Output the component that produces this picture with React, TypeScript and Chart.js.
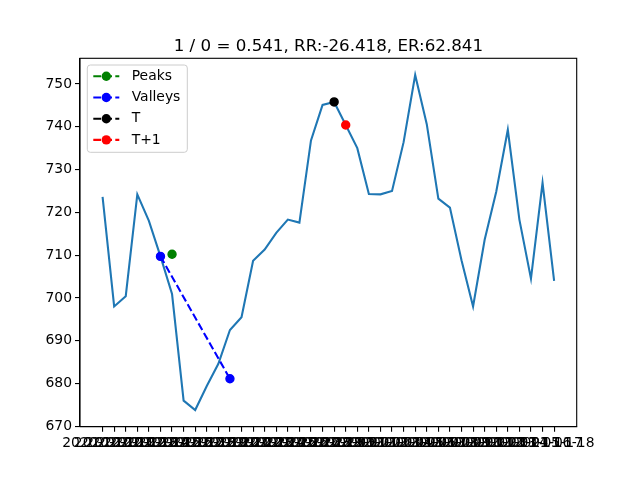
import React, { useEffect, useRef } from "react";
import { Chart, registerables } from "chart.js";

Chart.register(...registerables);

// x labels (one per row)
const dates = [
  "2020-12-10", "2020-12-11", "2020-12-12", "2020-12-13", "2020-12-14",
  "2020-12-15", "2020-12-16", "2020-12-17", "2020-12-18", "2020-12-19",
  "2020-12-20", "2020-12-21", "2020-12-22", "2020-12-23", "2020-12-24",
  "2020-12-25", "2020-12-26", "2020-12-27", "2020-12-28", "2020-12-29",
  "2020-12-30", "2020-12-31", "2021-01-01", "2021-01-02", "2021-01-03",
  "2021-01-04", "2021-01-05", "2021-01-06", "2021-01-07", "2021-01-08",
  "2021-01-09", "2021-01-10", "2021-01-11", "2021-01-12", "2021-01-13",
  "2021-01-14", "2021-01-15", "2021-01-16", "2021-01-17", "2021-01-18",
];

const prices = [
  723.6, 698.0, 700.4, 724.2, 718.0, 709.7, 700.9, 676.0, 673.8, 679.4,
  684.6, 692.5, 695.5, 708.7, 711.3, 715.2, 718.3, 717.6, 736.8, 745.1,
  745.8, 740.4, 735.0, 724.3, 724.2, 725.0, 736.4, 752.1, 740.6, 723.2,
  721.1, 708.8, 698.0, 713.6, 724.8, 739.3, 718.3, 704.5, 726.9, 704.0,
];

const peakIdx = [6];
const peakVals = [710.2];
const valleyIdx = [5, 11];
const valleyVals = [709.7, 681.1];
const tIdx = [20];
const tVals = [745.8];
const t1Idx = [21];
const t1Vals = [740.4];

const yTicks = [670, 680, 690, 700, 710, 720, 730, 740, 750];
const title = "1 / 0 = 0.541, RR:-26.418, ER:62.841";

const pts = (xs: number[], ys: number[]) => xs.map((x, i) => ({ x, y: ys[i] }));

const DASH = [7.7, 3.3];

// title centred over the axes, like matplotlib
const axesTitle = {
  id: "axesTitle",
  afterDraw(chart: any) {
    const { ctx, chartArea } = chart;
    ctx.save();
    ctx.fillStyle = "#000";
    ctx.font = "16.7px 'DejaVu Sans'";
    ctx.textAlign = "center";
    ctx.textBaseline = "alphabetic";
    ctx.fillText(title, (chartArea.left + chartArea.right) / 2, 50.7);
    ctx.restore();
  },
};

// matplotlib-like legend inside the axes, top left
const legendBox = {
  id: "legendBox",
  afterDatasetsDraw(chart: any) {
    const { ctx, chartArea } = chart;
    const items = chart.data.datasets.filter((d: any) => d.label);
    const x0 = chartArea.left + 7.3;
    const y0 = chartArea.top + 6.7;
    const w = 100;
    const h = 87.3;
    ctx.save();
    ctx.beginPath();
    ctx.roundRect(x0, y0, w, h, 3);
    ctx.fillStyle = "rgba(255,255,255,0.8)";
    ctx.fill();
    ctx.strokeStyle = "#cccccc";
    ctx.lineWidth = 1;
    ctx.stroke();
    items.forEach((d: any, i: number) => {
      const cy = y0 + 11.3 + i * 21.2;
      ctx.strokeStyle = d.borderColor;
      ctx.lineWidth = 2.08;
      ctx.setLineDash(DASH);
      ctx.beginPath();
      ctx.moveTo(x0 + 6, cy);
      ctx.lineTo(x0 + 32, cy);
      ctx.stroke();
      ctx.setLineDash([]);
      ctx.beginPath();
      ctx.arc(x0 + 19, cy, 4.7, 0, Math.PI * 2);
      ctx.fillStyle = d.borderColor;
      ctx.fill();
      ctx.fillStyle = "#000";
      ctx.font = "13.9px 'DejaVu Sans'";
      ctx.textBaseline = "middle";
      ctx.fillText(d.label, x0 + 44.4, cy);
    });
    ctx.restore();
  },
};

// full frame around the axes
const frame = {
  id: "frame",
  afterDraw(chart: any) {
    const { ctx, chartArea } = chart;
    ctx.save();
    ctx.strokeStyle = "#000";
    ctx.lineWidth = 1.1;
    ctx.strokeRect(chartArea.left, chartArea.top, chartArea.right - chartArea.left, chartArea.bottom - chartArea.top);
    ctx.restore();
  },
};

const App = () => {
  const chartRef = useRef<HTMLCanvasElement>(null);

  useEffect(() => {
    document.body.style.margin = "0";
    if (!chartRef.current) return;
    Chart.defaults.font.family = "'DejaVu Sans'";
    const marker = (color: string) => ({
      borderColor: color,
      backgroundColor: color,
      pointBackgroundColor: color,
      pointBorderColor: color,
      pointRadius: 4,
      pointBorderWidth: 1.4,
      borderWidth: 2.08,
      borderDash: DASH,
      order: 1,
    });
    const chart = new Chart(chartRef.current, {
      type: "line",
      data: {
        datasets: [
          {
            data: pts(prices.map((_, i) => i), prices),
            borderColor: "#1f77b4",
            borderWidth: 2.08,
            pointRadius: 0,
            tension: 0,
            order: 5,
          },
          { label: "Peaks", data: pts(peakIdx, peakVals), ...marker("#008000") },
          { label: "Valleys", data: pts(valleyIdx, valleyVals), ...marker("#0000ff") },
          { label: "T", data: pts(tIdx, tVals), ...marker("#000000") },
          { label: "T+1", data: pts(t1Idx, t1Vals), ...marker("#ff0000") },
        ] as any,
      },
      options: {
        animation: false,
        responsive: false,
        devicePixelRatio: 1,
        layout: { padding: { left: 0, right: 63.3, top: 58.3, bottom: 0 } },
        plugins: {
          legend: { display: false },
          tooltip: { enabled: false },
          title: { display: false },
        },
        scales: {
          x: {
            type: "linear",
            min: -1.95,
            max: 40.95,
            afterBuildTicks: (s: any) => {
              s.ticks = dates.map((_, i) => ({ value: i }));
            },
            afterFit: (s: any) => {
              s.height = 53.3;
            },
            ticks: {
              autoSkip: false,
              maxRotation: 0,
              minRotation: 0,
              color: "#000",
              font: { size: 13.9 },
              padding: 3,
              callback: (v: any) => dates[v],
            },
            grid: { drawOnChartArea: false, tickLength: 5, color: "#000", lineWidth: 1.1 },
            border: { color: "#000", width: 1.1 },
          },
          y: {
            min: 669.9,
            max: 756,
            afterBuildTicks: (s: any) => {
              s.ticks = yTicks.map((v) => ({ value: v }));
            },
            afterFit: (s: any) => {
              s.width = 80;
            },
            ticks: { color: "#000", font: { size: 13.9 }, padding: 3 },
            grid: { drawOnChartArea: false, tickLength: 5, color: "#000", lineWidth: 1.1 },
            border: { color: "#000", width: 1.1 },
          },
        },
      },
      plugins: [legendBox, frame, axesTitle],
    });
    return () => {
      chart.destroy();
    };
  }, []);

  return (
    <div style={{ width: 640, height: 480 }}>
      <canvas ref={chartRef} width={640} height={480} />
    </div>
  );
};

export default App;
